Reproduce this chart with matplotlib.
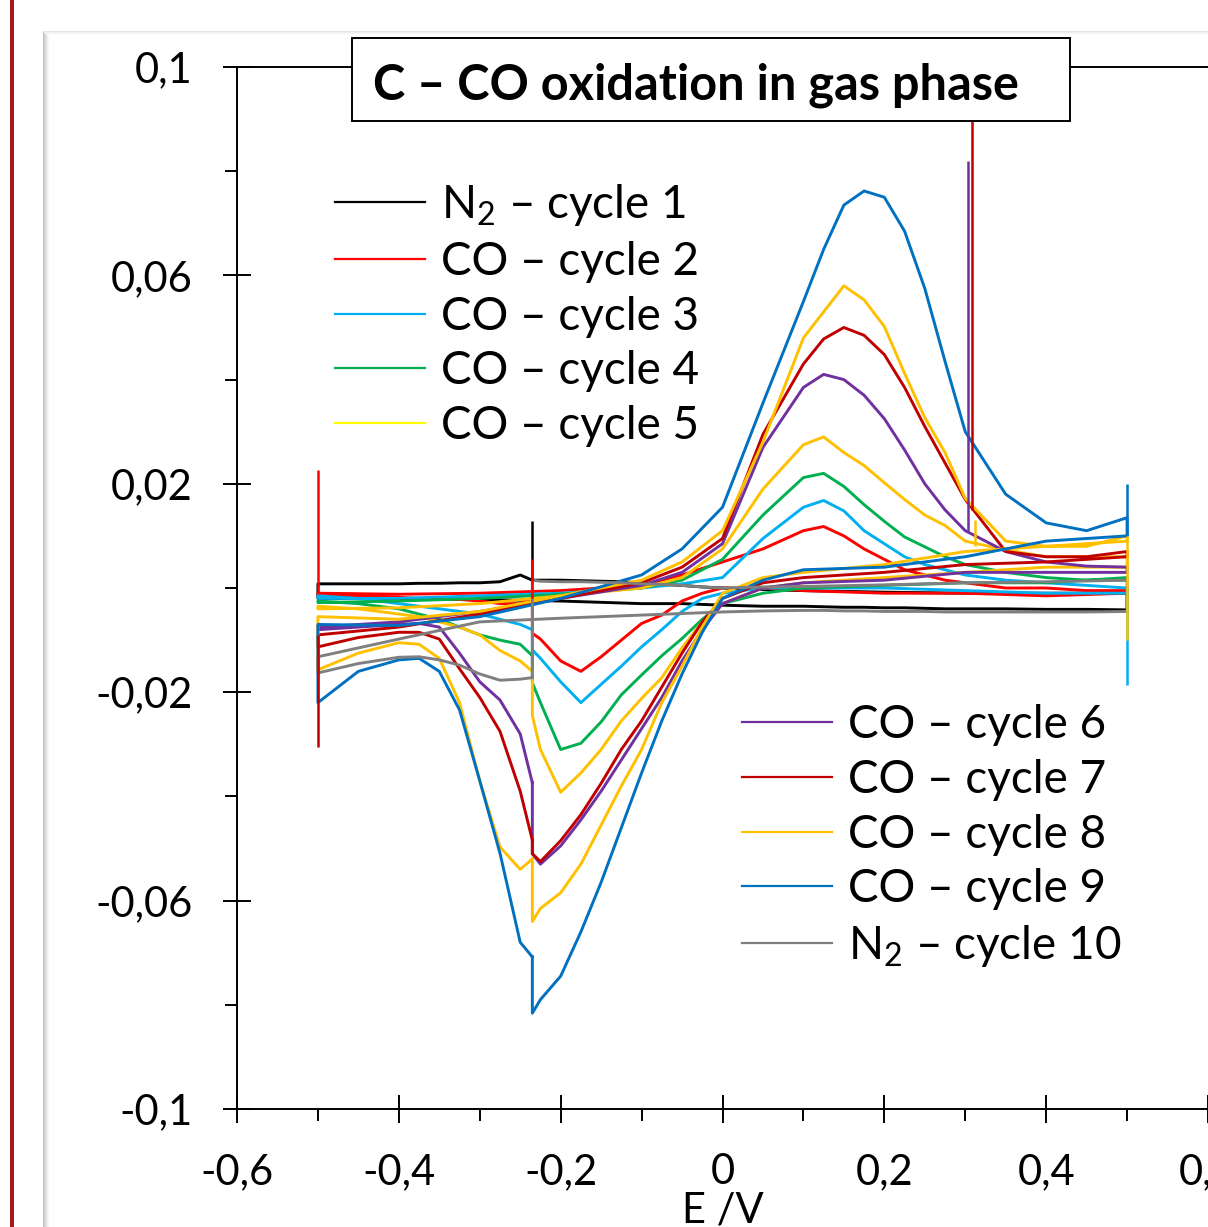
"""Cyclic voltammograms of C - CO oxidation in gas phase (cycles 1-10)."""
import matplotlib
matplotlib.use("Agg")
import matplotlib.pyplot as plt
from matplotlib.lines import Line2D
from matplotlib.patches import Rectangle
from matplotlib.ticker import FixedLocator, FuncFormatter

plt.rcParams["font.family"] = ["Lato", "DejaVu Sans"]
plt.rcParams["mathtext.fontset"] = "custom"
plt.rcParams["mathtext.rm"] = "Lato"
plt.rcParams["mathtext.it"] = "Lato:italic"
plt.rcParams["mathtext.bf"] = "Lato:bold"

W, H = 1208, 1227

# potential grids (V) of the three sweep segments of every cycle
E_START = [-0.235, -0.25, -0.275, -0.3, -0.325, -0.35, -0.375, -0.4, -0.45, -0.5]
E_UP = [-0.5, -0.4, -0.3, -0.2, -0.1, -0.05, 0.0, 0.05, 0.1, 0.125, 0.15, 0.175,
        0.2, 0.225, 0.25, 0.275, 0.3, 0.35, 0.4, 0.45, 0.5]
E_DOWN = [0.5, 0.4, 0.3, 0.2, 0.1, 0.05, 0.0, -0.025, -0.05, -0.075, -0.1, -0.125,
          -0.15, -0.175, -0.2, -0.225, -0.235]

CYCLES = [1, 2, 3, 4, 5, 6, 7, 8, 9, 10]
LABELS = ["N$_2$ – cycle 1", "CO – cycle 2", "CO – cycle 3", "CO – cycle 4",
          "CO – cycle 5", "CO – cycle 6", "CO – cycle 7", "CO – cycle 8",
          "CO – cycle 9", "N$_2$ – cycle 10"]
LINE_COLORS = ["#000000", "#FF0000", "#00B0F0", "#00B050", "#FFC000",
               "#7030A0", "#C00000", "#FFC000", "#0070C0", "#7F7F7F"]
LEGEND_COLORS = ["#000000", "#FF0000", "#00B0F0", "#00B050", "#FFFF00",
                 "#7030A0", "#C00000", "#FFC000", "#0070C0", "#7F7F7F"]

# current (A), negative sweep from -0.235 V down to -0.5 V
I_START = {
    1: [0.0015, 0.0025, 0.0012, 0.001, 0.001, 0.0009, 0.0009, 0.0008, 0.0008, 0.0008],
    2: [-0.002, -0.003, -0.003, -0.0025, -0.0022, -0.002, -0.002, -0.0018, -0.0016, -0.0015],
    3: [-0.008, -0.007, -0.006, -0.005, -0.0045, -0.004, -0.0035, -0.003, -0.002, -0.0015],
    4: [-0.013, -0.0108, -0.01, -0.009, -0.0075, -0.006, -0.005, -0.004, -0.003, -0.0025],
    5: [-0.016, -0.014, -0.012, -0.009, -0.0075, -0.0065, -0.0055, -0.005, -0.004, -0.0035],
    6: [-0.0374, -0.028, -0.0215, -0.018, -0.0125, -0.0075, -0.0068, -0.007, -0.0075, -0.008],
    7: [-0.0484, -0.039, -0.0275, -0.021, -0.0155, -0.0098, -0.0085, -0.0085, -0.0095, -0.0113],
    8: [-0.052, -0.054, -0.0497, -0.037, -0.022, -0.0135, -0.0108, -0.0105, -0.0125, -0.0157],
    9: [-0.0708, -0.068, -0.0509, -0.037, -0.0234, -0.016, -0.0135, -0.0138, -0.016, -0.022],
    10: [-0.0172, -0.0175, -0.0177, -0.0165, -0.0148, -0.0138, -0.0132, -0.0133, -0.0145, -0.0163],
}

# current (A), positive sweep from -0.5 V to 0.5 V
I_UP = {
    1: [-0.002, -0.002, -0.0022, -0.0025, -0.003, -0.003, -0.0033, -0.0035, -0.0035, -0.0036,
        -0.0037, -0.0037, -0.0038, -0.0038, -0.0039, -0.004, -0.004, -0.004, -0.0041, -0.0041, -0.0042],
    2: [-0.001, -0.0012, -0.001, -0.0005, 0.0005, 0.0025, 0.005, 0.0075, 0.011, 0.0118,
        0.010, 0.0075, 0.0055, 0.0035, 0.0025, 0.0015, 0.001, 0.0, 0.0, -0.0005, -0.0005],
    3: [-0.002, -0.002, -0.0015, -0.001, 0.0, 0.0008, 0.002, 0.0095, 0.0155, 0.0168,
        0.0148, 0.011, 0.0085, 0.006, 0.0045, 0.0035, 0.0025, 0.0015, 0.001, 0.0005, 0.0],
    4: [-0.0028, -0.0025, -0.002, -0.0012, 0.0, 0.0015, 0.0055, 0.014, 0.0212, 0.022,
        0.0195, 0.016, 0.0128, 0.0098, 0.0079, 0.006, 0.0045, 0.003, 0.002, 0.0015, 0.0015],
    5: [-0.004, -0.0038, -0.003, -0.0015, 0.0, 0.002, 0.0075, 0.019, 0.0275, 0.029,
        0.026, 0.0235, 0.0202, 0.017, 0.014, 0.012, 0.009, 0.0073, 0.006, 0.006, 0.006],
    6: [-0.0075, -0.0065, -0.0045, -0.002, 0.0005, 0.003, 0.0085, 0.027, 0.0385, 0.041,
        0.040, 0.037, 0.0325, 0.0265, 0.020, 0.015, 0.011, 0.007, 0.005, 0.0042, 0.004],
    7: [-0.009, -0.0075, -0.005, -0.002, 0.001, 0.004, 0.0095, 0.0295, 0.043, 0.0478,
        0.050, 0.0485, 0.0448, 0.0385, 0.031, 0.024, 0.017, 0.007, 0.006, 0.006, 0.007],
    8: [-0.0055, -0.006, -0.0045, -0.0015, 0.0015, 0.005, 0.011, 0.028, 0.048, 0.053,
        0.058, 0.0553, 0.0502, 0.0412, 0.0327, 0.026, 0.0172, 0.009, 0.008, 0.008, 0.010],
    9: [-0.007, -0.0072, -0.0055, -0.002, 0.0025, 0.0075, 0.0155, 0.0355, 0.055, 0.065,
        0.0735, 0.0762, 0.075, 0.0685, 0.0575, 0.0435, 0.030, 0.018, 0.0125, 0.011, 0.0135],
    10: [-0.0132, -0.0098, -0.0065, -0.0058, -0.0052, -0.0049, -0.0046, -0.0044, -0.0043, -0.0043,
         -0.0044, -0.0044, -0.0045, -0.0045, -0.0045, -0.0046, -0.0046, -0.0046, -0.0046, -0.0046, -0.0045],
}

# current (A), negative sweep from 0.5 V back to -0.235 V
I_DOWN = {
    1: [-0.001, -0.001, -0.001, -0.0008, -0.0005, -0.0003, 0.0, 0.0002, 0.0005, 0.0007,
        0.001, 0.0012, 0.0013, 0.0014, 0.0015, 0.0015, 0.0015],
    2: [-0.001, -0.0015, -0.001, -0.001, -0.0005, 0.0, 0.0, -0.001, -0.0025, -0.0052,
        -0.0068, -0.01, -0.0132, -0.016, -0.014, -0.0098, -0.0087],
    3: [-0.001, -0.001, -0.0005, 0.0, 0.0, 0.0, -0.001, -0.002, -0.0045, -0.008,
        -0.0113, -0.015, -0.0185, -0.022, -0.018, -0.0135, -0.0119],
    4: [0.002, 0.001, 0.001, 0.0005, 0.0, -0.001, -0.003, -0.006, -0.0097, -0.013,
        -0.0167, -0.0205, -0.0257, -0.0298, -0.031, -0.022, -0.0182],
    5: [0.004, 0.004, 0.003, 0.002, 0.001, 0.0, -0.003, -0.0065, -0.0115, -0.0172,
        -0.0212, -0.0255, -0.031, -0.0355, -0.0392, -0.031, -0.0245],
    6: [0.003, 0.003, 0.003, 0.0015, 0.001, 0.0, -0.003, -0.008, -0.014, -0.021,
        -0.027, -0.033, -0.039, -0.0445, -0.0495, -0.053, -0.051],
    7: [0.006, 0.005, 0.0045, 0.003, 0.002, 0.001, -0.002, -0.0065, -0.0125, -0.019,
        -0.0255, -0.031, -0.0375, -0.0435, -0.0485, -0.0525, -0.051],
    8: [0.009, 0.008, 0.007, 0.0045, 0.003, 0.002, -0.001, -0.0075, -0.015, -0.022,
        -0.031, -0.038, -0.0455, -0.053, -0.0585, -0.0615, -0.064],
    9: [0.010, 0.009, 0.006, 0.004, 0.0035, 0.0015, -0.002, -0.0085, -0.0165, -0.0255,
        -0.0355, -0.046, -0.0565, -0.066, -0.0745, -0.079, -0.0816],
    10: [0.0015, 0.0012, 0.001, 0.0006, 0.0003, 0.0002, 0.0, 0.0002, 0.0005, 0.0007,
         0.0008, 0.001, 0.0011, 0.0012, 0.0012, 0.0013, 0.0015],
}

# transient current spikes: cycle, potential, low and high current
SPIKE_CYCLE = [1, 2, 2, 7, 7, 6, 9, 3, 8, 5]
SPIKE_E = [-0.235, -0.235, -0.5, -0.5, 0.3085, 0.3036, 0.5, 0.5, 0.5, 0.312]
SPIKE_LO = [0.0015, -0.002, -0.001, -0.0305, 0.015, 0.011, 0.010, -0.0186, -0.010, 0.008]
SPIKE_HI = [0.0128, 0.0055, 0.0226, -0.009, 0.105, 0.082, 0.020, 0.0, 0.010, 0.013]

X_MAJOR = [-0.6, -0.4, -0.2, 0.0, 0.2, 0.4, 0.6]
X_MINOR = [-0.5, -0.3, -0.1, 0.1, 0.3, 0.5]
Y_MAJOR = [-0.1, -0.06, -0.02, 0.02, 0.06, 0.1]
Y_MINOR = [-0.08, -0.04, 0.0, 0.04, 0.08]

TITLE = "C – CO oxidation in gas phase"


def comma(v, _pos=None):
    return f"{round(v, 3) + 0.0:g}".replace(".", ",")


fig = plt.figure(figsize=(W / 100, H / 100), dpi=100)
fig.patch.set_facecolor("white")

# page decorations: red margin rule and the chart-area drop shadow
fig.add_artist(Line2D([11.5 / W] * 2, [0, 1], color="#A11D1D", lw=2.9,
                      transform=fig.transFigure))
for k, g in enumerate(["#c4c4c4", "#cfcfcf", "#dadada", "#e5e5e5", "#efefef", "#f7f7f7"]):
    fig.add_artist(Line2D([(43 + k) / W] * 2, [0, 1 - (31 + k) / H], color=g, lw=0.75,
                          transform=fig.transFigure))
for k, g in enumerate(["#e6e6e6", "#efefef", "#f7f7f7"]):
    fig.add_artist(Line2D([(43 + k) / W, 1], [1 - (31 + k) / H] * 2, color=g, lw=0.75,
                          transform=fig.transFigure))

ax = fig.add_axes([237 / W, 118 / H, 971 / W, 1042 / H])

for c, color in zip(CYCLES, LINE_COLORS):
    e = E_START + E_UP + E_DOWN + E_START[:1]
    i = I_START[c] + I_UP[c] + I_DOWN[c] + I_START[c][:1]
    ax.plot(e, i, color=color, lw=2.1, solid_joinstyle="round")

ax.vlines(SPIKE_E, SPIKE_LO, SPIKE_HI,
          colors=[LINE_COLORS[c - 1] for c in SPIKE_CYCLE], lw=1.8)

ax.set_xlim(-0.6, 0.6)
ax.set_ylim(-0.1, 0.1)
ax.xaxis.set_major_locator(FixedLocator(X_MAJOR))
ax.xaxis.set_minor_locator(FixedLocator(X_MINOR))
ax.yaxis.set_major_locator(FixedLocator(Y_MAJOR))
ax.yaxis.set_minor_locator(FixedLocator(Y_MINOR))
ax.xaxis.set_major_formatter(FuncFormatter(comma))
ax.yaxis.set_major_formatter(FuncFormatter(comma))

ax.tick_params(which="major", direction="inout", length=20, width=1.4,
               labelsize=30, pad=22)
ax.tick_params(which="minor", direction="out", length=8.5, width=1.4)
for side in ("left", "bottom", "top"):
    ax.spines[side].set_linewidth(1.4)
ax.spines["right"].set_visible(False)

ax.set_xlabel("E /V", fontsize=30)
ax.xaxis.set_label_coords(0.5, -0.0795)

legend_kw = dict(loc="upper left", bbox_transform=fig.transFigure, frameon=False,
                 fontsize=33, handlelength=1.96, handletextpad=0.35,
                 labelspacing=0.28, borderpad=0, borderaxespad=0)
h1 = [Line2D([], [], color=col, lw=1.6) for col in LEGEND_COLORS[:5]]
h2 = [Line2D([], [], color=col, lw=1.6) for col in LEGEND_COLORS[5:]]
leg1 = ax.legend(h1, LABELS[:5], bbox_to_anchor=(335 / W, 1 - 182 / H), **legend_kw)
ax.add_artist(leg1)
ax.legend(h2, LABELS[5:], bbox_to_anchor=(742 / W, 1 - 704 / H), **legend_kw)

# title in its own framed box, sitting over the top spine
fig.add_artist(Rectangle((352 / W, 1 - 121 / H), 718 / W, 83 / H, transform=fig.transFigure,
                         facecolor="white", edgecolor="black", lw=1.4, zorder=5))
fig.text(373 / W, 1 - 99 / H, TITLE, fontsize=35, fontweight="bold",
         ha="left", va="baseline", zorder=6)

fig.savefig("out.png", dpi=100, facecolor="white")
